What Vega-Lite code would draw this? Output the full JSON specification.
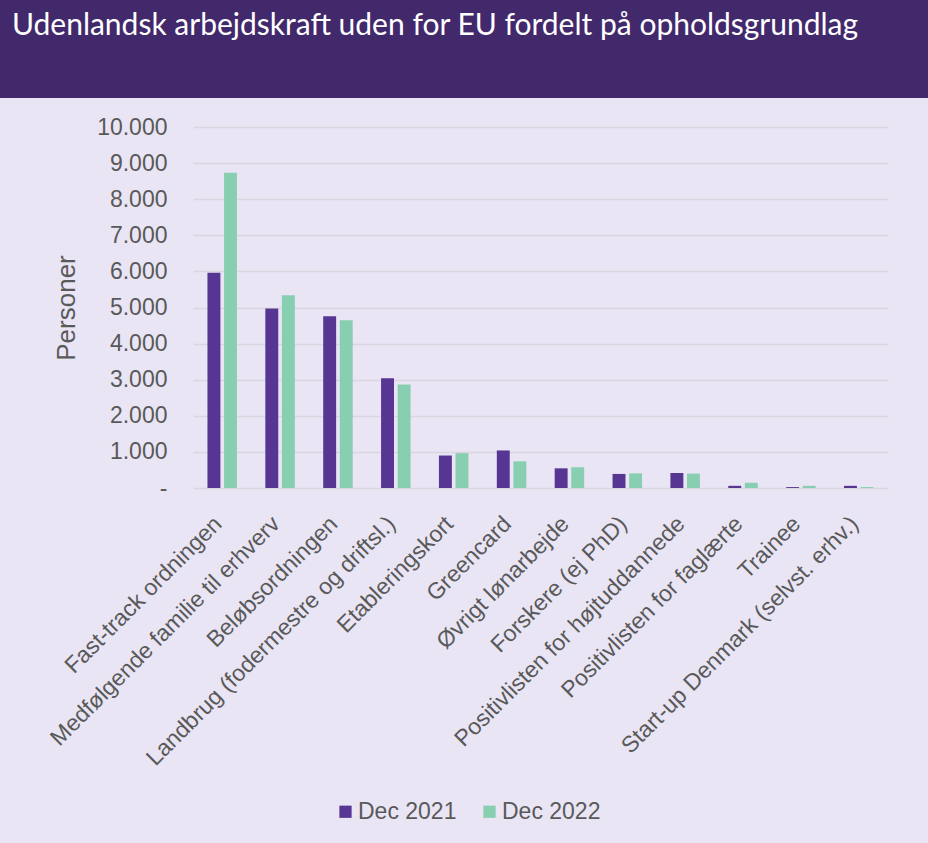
{
  "$schema": "https://vega.github.io/schema/vega-lite/v6.json",
  "background": "#e9e5f5",
  "padding": {"left": 0, "top": 0, "right": -153, "bottom": 21},
  "spacing": 18,
  "center": true,
  "config": {"view": {"stroke": null}, "font": "Liberation Sans"},
  "vconcat": [
    {
      "width": 1081,
      "height": 98,
      "view": {"fill": "#41296c", "stroke": null},
      "data": {"values": [{"title": "Udenlandsk arbejdskraft uden for EU fordelt på opholdsgrundlag"}]},
      "mark": {"type": "text", "align": "left", "baseline": "alphabetic", "font": "Lato", "fontSize": 30, "color": "#ffffff", "dx": 12, "dy": 35},
      "encoding": {
        "x": {"datum": 0, "type": "quantitative", "scale": {"domain": [0, 1]}, "axis": null},
        "y": {"datum": 1, "type": "quantitative", "scale": {"domain": [0, 1]}, "axis": null},
        "text": {"field": "title"}
      }
    },
    {
      "width": 695,
      "height": 361,
      "data": {
        "values": [
          {"cat": "Fast-track ordningen", "series": "Dec 2021", "value": 5960},
          {"cat": "Fast-track ordningen", "series": "Dec 2022", "value": 8730},
          {"cat": "Medfølgende familie til erhverv", "series": "Dec 2021", "value": 4970},
          {"cat": "Medfølgende familie til erhverv", "series": "Dec 2022", "value": 5340},
          {"cat": "Beløbsordningen", "series": "Dec 2021", "value": 4755},
          {"cat": "Beløbsordningen", "series": "Dec 2022", "value": 4645},
          {"cat": "Landbrug (fodermestre og driftsl.)", "series": "Dec 2021", "value": 3040},
          {"cat": "Landbrug (fodermestre og driftsl.)", "series": "Dec 2022", "value": 2870},
          {"cat": "Etableringskort", "series": "Dec 2021", "value": 900},
          {"cat": "Etableringskort", "series": "Dec 2022", "value": 965},
          {"cat": "Greencard", "series": "Dec 2021", "value": 1040},
          {"cat": "Greencard", "series": "Dec 2022", "value": 740},
          {"cat": "Øvrigt lønarbejde", "series": "Dec 2021", "value": 545},
          {"cat": "Øvrigt lønarbejde", "series": "Dec 2022", "value": 575},
          {"cat": "Forskere (ej PhD)", "series": "Dec 2021", "value": 390},
          {"cat": "Forskere (ej PhD)", "series": "Dec 2022", "value": 405},
          {"cat": "Positivlisten for højtuddannede", "series": "Dec 2021", "value": 415},
          {"cat": "Positivlisten for højtuddannede", "series": "Dec 2022", "value": 400},
          {"cat": "Positivlisten for faglærte", "series": "Dec 2021", "value": 60},
          {"cat": "Positivlisten for faglærte", "series": "Dec 2022", "value": 145},
          {"cat": "Trainee", "series": "Dec 2021", "value": 25},
          {"cat": "Trainee", "series": "Dec 2022", "value": 60},
          {"cat": "Start-up Denmark (selvst. erhv.)", "series": "Dec 2021", "value": 60},
          {"cat": "Start-up Denmark (selvst. erhv.)", "series": "Dec 2022", "value": 25}
        ]
      },
      "mark": {"type": "bar"},
      "encoding": {
        "x": {
          "field": "cat",
          "type": "nominal",
          "sort": null,
          "scale": {"paddingInner": 0.49, "paddingOuter": 0.25},
          "axis": {
            "title": null,
            "labelAngle": -45,
            "labelAlign": "right",
            "labelBaseline": "middle",
            "labelFontSize": 23,
            "labelColor": "#595959",
            "labelLimit": 600,
            "labelPadding": 32,
            "labelOffset": -4,
            "domain": false,
            "ticks": false,
            "grid": false
          }
        },
        "xOffset": {
          "field": "series",
          "type": "nominal",
          "sort": ["Dec 2021", "Dec 2022"],
          "scale": {"paddingInner": 0.22}
        },
        "y": {
          "field": "value",
          "type": "quantitative",
          "scale": {"domain": [0, 10000], "nice": false},
          "axis": {
            "title": "Personer",
            "titleFontSize": 26,
            "titleFontWeight": "normal",
            "titleColor": "#595959",
            "titlePadding": 17,
            "values": [0, 1000, 2000, 3000, 4000, 5000, 6000, 7000, 8000, 9000, 10000],
            "labelExpr": "datum.value == 0 ? '-' : replace(format(datum.value, ','), ',', '.')",
            "labelFontSize": 23,
            "labelColor": "#595959",
            "labelPadding": 26,
            "domain": false,
            "ticks": false,
            "tickSize": 0,
            "gridColor": "#d9d6e0",
            "gridWidth": 1.5
          }
        },
        "color": {
          "field": "series",
          "type": "nominal",
          "scale": {"domain": ["Dec 2021", "Dec 2022"], "range": ["#573593", "#88cfb2"]},
          "legend": {
            "orient": "none",
            "legendX": 334,
            "legendY": 800,
            "direction": "horizontal",
            "title": null,
            "symbolType": "square",
            "symbolSize": 150,
            "symbolStrokeWidth": 0,
            "labelFontSize": 23,
            "labelColor": "#595959",
            "labelOffset": 1,
            "columnPadding": 21,
            "padding": 0
          }
        }
      }
    }
  ]
}
